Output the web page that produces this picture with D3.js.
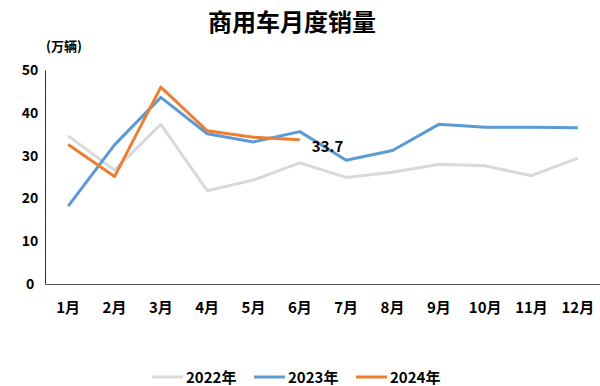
<!DOCTYPE html>
<html>
<head>
<meta charset="utf-8">
<script src="https://cdn.jsdelivr.net/npm/d3@7"></script>
<style>
  body { margin: 0; background: #fff; }
  text { font-family: "Noto Sans CJK SC", "Noto Sans", sans-serif; font-weight: bold; fill: #000; }
</style>
</head>
<body>
<script>
// monthly commercial vehicle sales, 10k units
const months = ["1月", "2月", "3月", "4月", "5月", "6月", "7月", "8月", "9月", "10月", "11月", "12月"];
const sales2022 = [34.6, 26.6, 37.3, 21.8, 24.3, 28.3, 24.9, 26.1, 28.0, 27.6, 25.3, 29.4];
const sales2023 = [18.2, 32.5, 43.6, 35.1, 33.2, 35.6, 28.9, 31.2, 37.3, 36.6, 36.6, 36.5];
const sales2024 = [32.6, 25.1, 46.0, 35.8, 34.3, 33.7];
const yTicks = [0, 10, 20, 30, 40, 50];
const seriesNames = ["2022年", "2023年", "2024年"];

const colors = ["#d9d9d9", "#5b9bd5", "#ed7d31"];
const W = 600, H = 386;

const svg = d3.select("body").append("svg")
  .attr("width", W).attr("height", H);

const x = d3.scaleBand().domain(months).range([45, 601]);
const y = d3.scaleLinear().domain([0, 50]).range([284, 70]);

// title
svg.append("text")
  .attr("x", 292).attr("y", 31)
  .attr("text-anchor", "middle")
  .attr("font-size", 24)
  .text("商用车月度销量");

svg.append("text")
  .attr("x", 46).attr("y", 51)
  .attr("font-size", 13)
  .text("(万辆)");

// y axis
const yAxis = svg.append("g")
  .attr("transform", "translate(45,0)")
  .call(d3.axisLeft(y).tickValues(yTicks).tickSize(0).tickPadding(23));
yAxis.select(".domain").attr("stroke", "#333").attr("stroke-width", 1);
yAxis.selectAll("text").attr("font-size", 14).attr("text-anchor", "middle")
  .attr("dx", 8);

// x axis
const xAxis = svg.append("g")
  .attr("transform", "translate(0,284)")
  .call(d3.axisBottom(x).tickSize(0).tickPadding(18));
xAxis.select(".domain").attr("stroke", "#555").attr("stroke-width", 1.2);
xAxis.selectAll("text").attr("font-size", 15);

const line = d3.line()
  .x((d, i) => x(months[i]) + x.bandwidth() / 2)
  .y(d => y(d));

[sales2022, sales2023, sales2024].forEach((s, k) => {
  svg.append("path")
    .datum(s)
    .attr("fill", "none")
    .attr("stroke", colors[k])
    .attr("stroke-width", 3)
    .attr("stroke-linejoin", "round")
    .attr("d", line);
});

// last value label
const last = sales2024.length - 1;
svg.append("text")
  .attr("x", x(months[last]) + x.bandwidth() / 2 + 12)
  .attr("y", y(sales2024[last]) + 12)
  .attr("font-size", 15)
  .text(sales2024[last]);

// legend
const legend = svg.append("g").attr("transform", "translate(152,377)");
seriesNames.forEach((name, k) => {
  const g = legend.append("g").attr("transform", `translate(${k * 102},0)`);
  g.append("line")
    .attr("x1", 0).attr("x2", 31)
    .attr("y1", 0).attr("y2", 0)
    .attr("stroke", colors[k]).attr("stroke-width", 3);
  g.append("text")
    .attr("x", 34).attr("y", 5.5)
    .attr("font-size", 15)
    .text(name);
});
</script>
</body>
</html>
